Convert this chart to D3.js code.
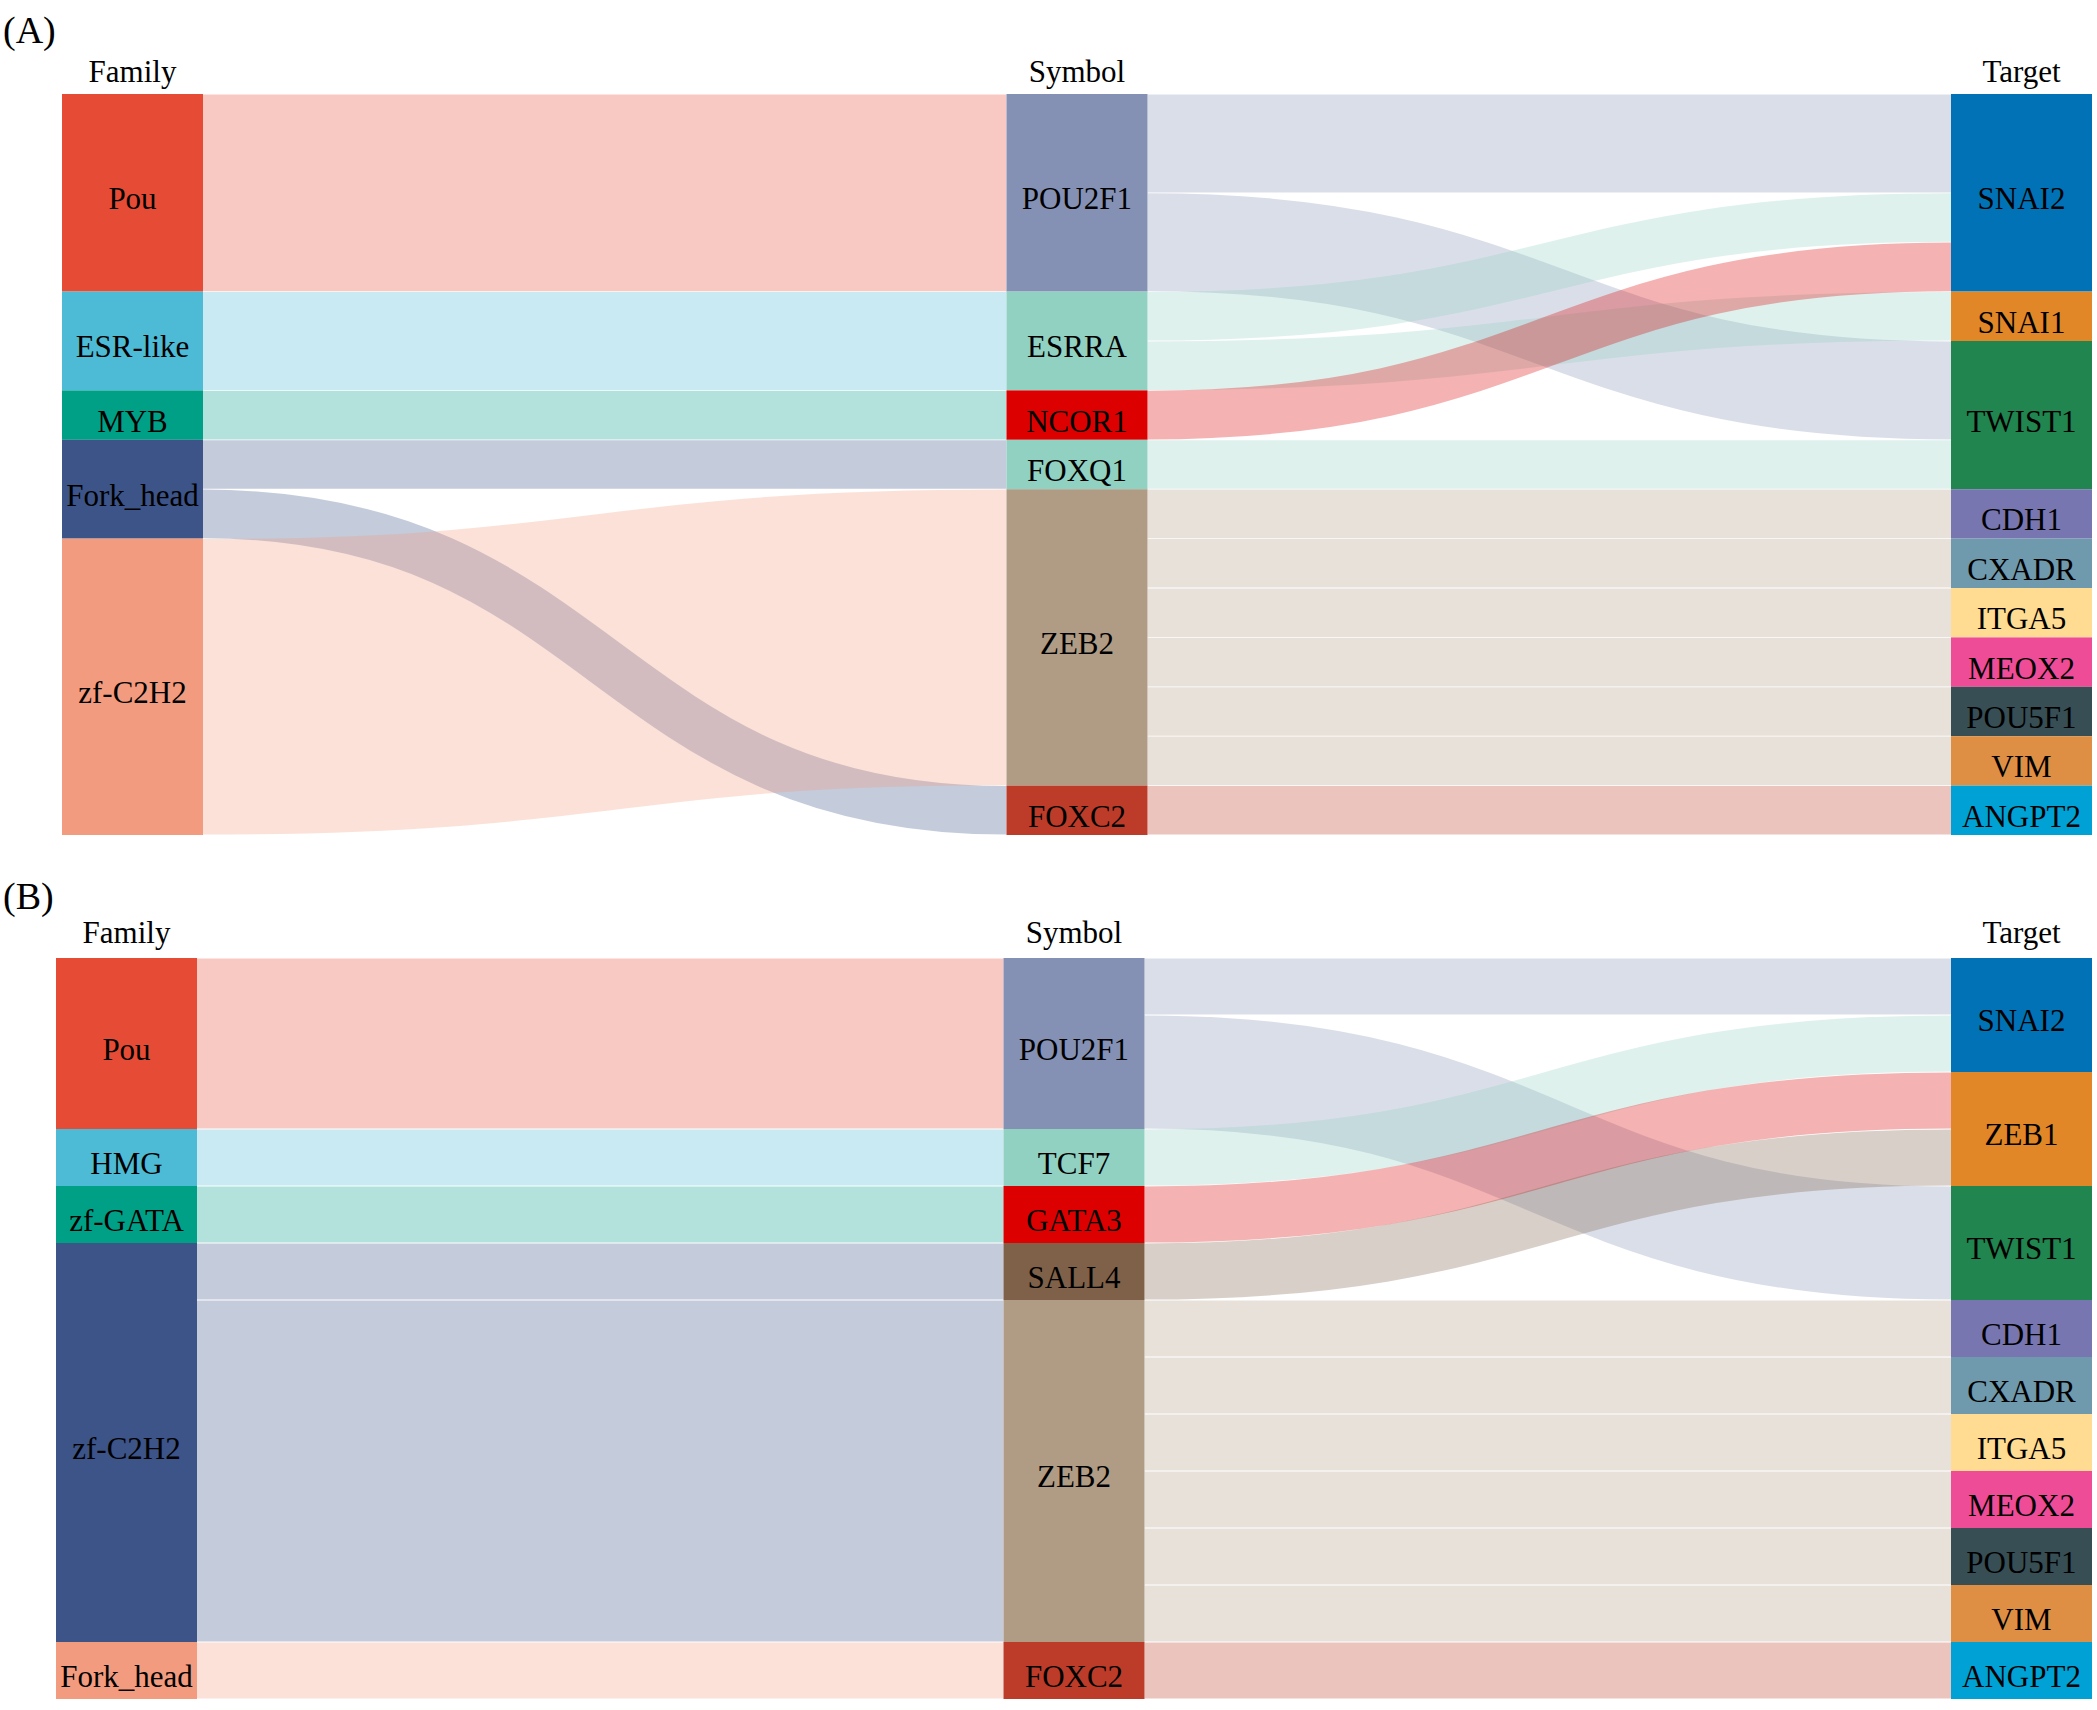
<!DOCTYPE html>
<html>
<head>
<meta charset="utf-8">
<script src="https://cdn.jsdelivr.net/npm/d3@7"></script>
<style>
  body { margin: 0; background: #fff; }
  text { font-family: "Liberation Serif", "Times New Roman", serif; fill: #000; }
</style>
</head>
<body>
<div id="chart"></div>
<script>
// columns
var columns = ["Family", "Symbol", "Target"];

// panel A
var familyA = ["Pou", "ESR-like", "MYB", "Fork_head", "zf-C2H2"];
var symbolA = ["POU2F1", "ESRRA", "NCOR1", "FOXQ1", "ZEB2", "FOXC2"];
var targetA = ["SNAI2", "SNAI1", "TWIST1", "CDH1", "CXADR", "ITGA5", "MEOX2", "POU5F1", "VIM", "ANGPT2"];
var famLinksA = [
    ["Pou", "POU2F1", 4],
    ["ESR-like", "ESRRA", 2],
    ["MYB", "NCOR1", 1],
    ["Fork_head", "FOXQ1", 1],
    ["Fork_head", "FOXC2", 1],
    ["zf-C2H2", "ZEB2", 6]
];
var tarLinksA = [
    ["POU2F1", "SNAI2", 2],
    ["POU2F1", "TWIST1", 2],
    ["ESRRA", "SNAI2", 1],
    ["ESRRA", "SNAI1", 1],
    ["NCOR1", "SNAI2", 1],
    ["FOXQ1", "TWIST1", 1],
    ["ZEB2", "CDH1", 1],
    ["ZEB2", "CXADR", 1],
    ["ZEB2", "ITGA5", 1],
    ["ZEB2", "MEOX2", 1],
    ["ZEB2", "POU5F1", 1],
    ["ZEB2", "VIM", 1],
    ["FOXC2", "ANGPT2", 1]
];

// panel B
var familyB = ["Pou", "HMG", "zf-GATA", "zf-C2H2", "Fork_head"];
var symbolB = ["POU2F1", "TCF7", "GATA3", "SALL4", "ZEB2", "FOXC2"];
var targetB = ["SNAI2", "ZEB1", "TWIST1", "CDH1", "CXADR", "ITGA5", "MEOX2", "POU5F1", "VIM", "ANGPT2"];
var famLinksB = [
    ["Pou", "POU2F1", 3],
    ["HMG", "TCF7", 1],
    ["zf-GATA", "GATA3", 1],
    ["zf-C2H2", "SALL4", 1],
    ["zf-C2H2", "ZEB2", 6],
    ["Fork_head", "FOXC2", 1]
];
var tarLinksB = [
    ["POU2F1", "SNAI2", 1],
    ["POU2F1", "TWIST1", 2],
    ["TCF7", "SNAI2", 1],
    ["GATA3", "ZEB1", 1],
    ["SALL4", "ZEB1", 1],
    ["ZEB2", "CDH1", 1],
    ["ZEB2", "CXADR", 1],
    ["ZEB2", "ITGA5", 1],
    ["ZEB2", "MEOX2", 1],
    ["ZEB2", "POU5F1", 1],
    ["ZEB2", "VIM", 1],
    ["FOXC2", "ANGPT2", 1]
];

// node colours, column by column
var famColors = ["#E64B35", "#4DBBD5", "#00A087", "#3C5488", "#F39B7F"];
var symColorsA = ["#8491B4", "#91D1C2", "#DC0000", "#91D1C2", "#B09C85", "#BC3C29"];
var symColorsB = ["#8491B4", "#91D1C2", "#DC0000", "#7E6148", "#B09C85", "#BC3C29"];
var tarColors = ["#0072B5", "#E18727", "#20854E", "#7876B1", "#6F99AD", "#FFDC91", "#EE4C97", "#374E55", "#DF8F44", "#00A1D5"];

var W = 2097, H = 1710, nodeW = 141;

var svg = d3.select("#chart").append("svg")
    .attr("width", W)
    .attr("height", H);

function drawPanel(p) {
    var g = svg.append("g");
    var cols = [p.fam, p.sym, p.tar];
    var colColors = [famColors, p.symColors, tarColors];
    var links = p.famLinks.map(function(d) { return { s: d[0], t: d[1], v: d[2], c: 0 }; })
        .concat(p.tarLinks.map(function(d) { return { s: d[0], t: d[1], v: d[2], c: 1 }; }));

    var x = d3.scalePoint().domain(columns).range([p.x0, p.x1]);

    // node values
    var nodes = {};
    cols.forEach(function(list, ci) {
        list.forEach(function(name, i) {
            var out = d3.sum(links, function(l) { return l.c === ci && l.s === name ? l.v : 0; });
            var inn = d3.sum(links, function(l) { return l.c === ci - 1 && l.t === name ? l.v : 0; });
            nodes[ci + ":" + name] = { name: name, col: ci, idx: i, value: Math.max(out, inn), color: colColors[ci][i] };
        });
    });
    var total = d3.sum(p.fam, function(n) { return nodes["0:" + n].value; });
    var y = d3.scaleLinear().domain([0, total]).range([p.top, p.top + p.height]);

    cols.forEach(function(list, ci) {
        var acc = 0;
        list.forEach(function(name) {
            var n = nodes[ci + ":" + name];
            n.v0 = acc; acc += n.value; n.v1 = acc;
            n.x0 = x(columns[ci]); n.x1 = n.x0 + nodeW;
            n.so = n.v0; n.to = n.v0;
        });
    });

    links.forEach(function(l) {
        l.src = nodes[l.c + ":" + l.s];
        l.tgt = nodes[(l.c + 1) + ":" + l.t];
    });
    // source side: ordered by target position
    d3.sort(links, function(l) { return l.tgt.v0; }).forEach(function(l) {
        l.sy = l.src.so + l.v / 2; l.src.so += l.v;
    });
    // target side: ordered by source position
    d3.sort(links, function(l) { return l.src.v0; }).forEach(function(l) {
        l.ty = l.tgt.to + l.v / 2; l.tgt.to += l.v;
    });

    var link = d3.linkHorizontal()
        .source(function(l) { return [l.src.x1, y(l.sy)]; })
        .target(function(l) { return [l.tgt.x0, y(l.ty)]; });

    g.selectAll("path.lnk")
        .data(links)
        .enter()
        .append("path")
            .attr("class", "lnk")
            .attr("d", link)
            .attr("fill", "none")
            .attr("stroke", function(l) { return l.src.color; })
            .attr("stroke-opacity", 0.3)
            .attr("stroke-width", function(l) { return y(l.v) - y(0) - 0.8; });

    var nodeList = Object.keys(nodes).map(function(k) { return nodes[k]; });

    g.selectAll("rect.node")
        .data(nodeList)
        .enter()
        .append("rect")
            .attr("class", "node")
            .attr("x", function(n) { return n.x0; })
            .attr("y", function(n) { return y(n.v0); })
            .attr("width", nodeW)
            .attr("height", function(n) { return y(n.v1) - y(n.v0); })
            .attr("fill", function(n) { return n.color; });

    g.selectAll("text.nlab")
        .data(nodeList)
        .enter()
        .append("text")
            .attr("class", "nlab")
            .attr("x", function(n) { return n.x0 + nodeW / 2; })
            .attr("y", function(n) { return (y(n.v0) + y(n.v1)) / 2; })
            .attr("dy", "0.53em")
            .attr("text-anchor", "middle")
            .style("font-size", "31px")
            .text(function(n) { return n.name; });

    // column headers
    g.selectAll("text.head")
        .data(columns)
        .enter()
        .append("text")
            .attr("class", "head")
            .attr("x", function(c) { return x(c) + nodeW / 2; })
            .attr("y", p.headY)
            .attr("text-anchor", "middle")
            .style("font-size", "31px")
            .text(function(c) { return c; });

    g.append("text")
        .attr("x", 3)
        .attr("y", p.labelY)
        .style("font-size", "38px")
        .text(p.label);
}

drawPanel({ label: "(A)", labelY: 43, headY: 82, top: 94, height: 741, x0: 62, x1: 1951,
    fam: familyA, sym: symbolA, tar: targetA, famLinks: famLinksA, tarLinks: tarLinksA, symColors: symColorsA });
drawPanel({ label: "(B)", labelY: 909, headY: 943, top: 958, height: 741, x0: 56, x1: 1951,
    fam: familyB, sym: symbolB, tar: targetB, famLinks: famLinksB, tarLinks: tarLinksB, symColors: symColorsB });
</script>
</body>
</html>
